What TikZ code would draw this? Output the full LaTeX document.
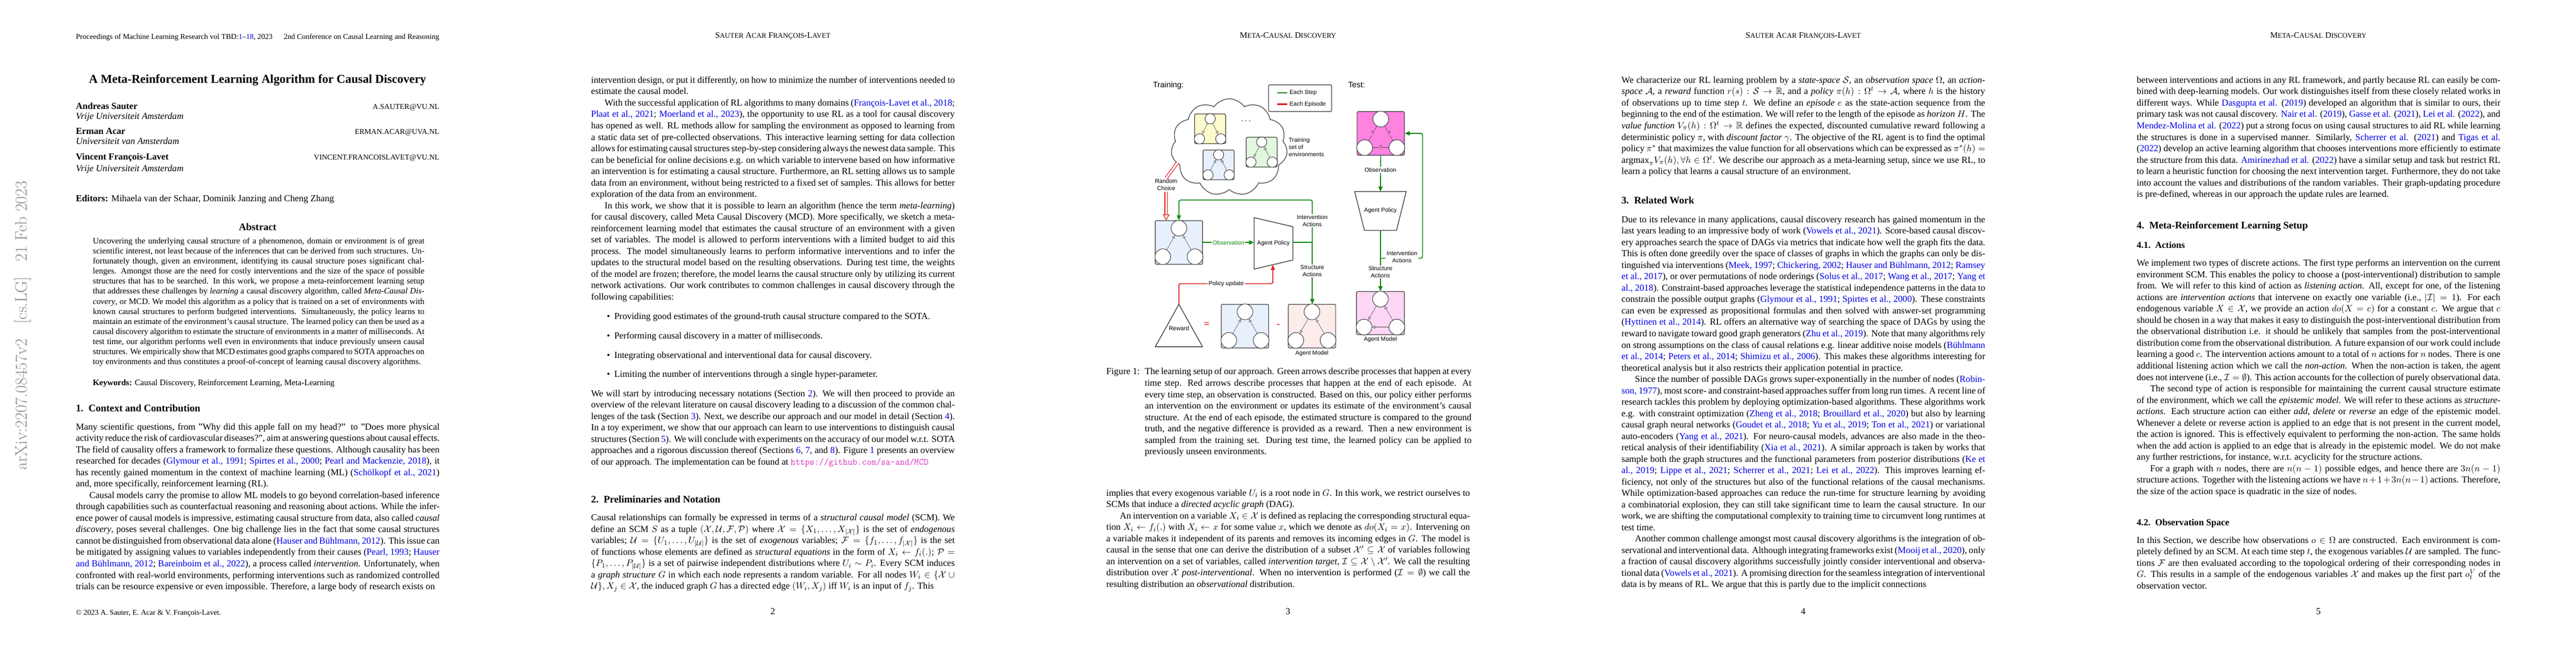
\documentclass[tikz,border=0pt]{standalone}
\usepackage{amsmath,amssymb}
\usepackage{fontspec}
\setmainfont{Liberation Serif}
\setsansfont{Liberation Sans}
\newfontfamily\lmfont{Latin Modern Roman}
\usetikzlibrary{arrows.meta, calc, positioning, shapes.symbols}

\definecolor{citeblue}{rgb}{0,0,0.9}
\definecolor{urlpink}{rgb}{0.85,0.2,0.75}
\definecolor{stepgreen}{RGB}{20,135,20}
\definecolor{epired}{RGB}{222,30,30}
\definecolor{envyellow}{RGB}{253,251,205}
\definecolor{envblue}{RGB}{232,240,254}
\definecolor{envgreen}{RGB}{226,246,224}
\definecolor{envrose}{RGB}{253,236,236}
\definecolor{envpink}{RGB}{252,214,244}
\definecolor{envmagenta}{RGB}{255,130,224}

\newcommand\ct[1]{\textcolor{citeblue}{#1}}
\newcommand\bodyfont{\fontsize{11}{13.6}\selectfont\parindent=16pt\parskip=0pt\relax}
\newcommand\fsc[2]{#1{\fontsize{8.5}{10}\selectfont#2}}
% environment box with three variables
\newcommand\envbox[7]{%
  \node[envrect, fill=#6, minimum width=#4in, minimum height=#5in] (#1) at (#2,#3) {};
  \node[varnode, minimum size=#7in] (#1-t) at ($(#1.north)+(0,{#7/2})$) {};
  \node[varnode, minimum size=#7in] (#1-l) at ($(#1.south west)+({#7/2},{-#7/2})$) {};
  \node[varnode, minimum size=#7in] (#1-r) at ($(#1.south east)+({-#7/2},{-#7/2})$) {};
}

\tikzset{
  body/.style={anchor=base west, inner sep=0pt, text width=6in, align=justify, font=\bodyfont},
  head/.style={anchor=base, inner sep=0pt, font=\fontsize{10}{12}\selectfont},
  sect/.style={anchor=base west, inner sep=0pt, font=\fontsize{12}{14}\selectfont\bfseries},
  subsect/.style={anchor=base west, inner sep=0pt, font=\fontsize{11}{13}\selectfont\bfseries},
  pagenum/.style={anchor=base, inner sep=0pt, font=\bodyfont},
  envrect/.style={draw=black!75, line width=0.8pt, rounded corners=1.5pt, inner sep=0pt},
  varnode/.style={circle, draw=black!80, fill=white, line width=0.6pt, inner sep=0pt},
  envarr/.style={-{Triangle[open,length=3.5pt,width=3.5pt]}, black!70, line width=0.4pt},
  stepline/.style={-{Triangle[length=6pt,width=5pt]}, stepgreen, line width=1.1pt},
  epiline/.style={-{Triangle[length=6pt,width=5pt]}, epired, line width=1.1pt},
  choiceline/.style={draw=epired, double=white, double distance=2.2pt, line width=0.8pt},
  lbl/.style={fill=white, inner sep=1pt, align=center, font=\sffamily\fontsize{7}{8.5}\selectfont},
  shapeline/.style={draw=black!75, line width=0.9pt, fill=white, line join=round},
}

\begin{document}
\begin{tikzpicture}[x=1in, y=-1in]
\useasboundingbox (0,0) rectangle (42.5,11);
\fill[white] (0,0) rectangle (42.5,11);

%% page 1
\begin{scope}
  \node[anchor=base west, inner sep=0pt, font=\fontsize{9}{11}\selectfont] (h1l) at (1.25,0.65)
    {Proceedings of Machine Learning Research vol TBD:\ct{1}–\ct{18}, 2023};
  \node[anchor=base east, inner sep=0pt, font=\fontsize{9}{11}\selectfont] (h1r) at (7.25,0.65)
    {2nd Conference on Causal Learning and Reasoning};
  \node[anchor=base, inner sep=0pt, font=\fontsize{14.4}{17}\selectfont\bfseries] (title) at (4.25,1.37)
    {A Meta-Reinforcement Learning Algorithm for Causal Discovery};
  \node[anchor=base west, inner sep=0pt, font=\bodyfont\bfseries] (au1) at (1.25,1.80) {Andreas Sauter};
  \node[anchor=base west, inner sep=0pt, font=\bodyfont\itshape] (af1) at (1.25,1.97) {Vrije Universiteit Amsterdam};
  \node[anchor=base east, inner sep=0pt, font=\fontsize{9}{11}\selectfont] (em1) at (7.25,1.80) {A.SAUTER@VU.NL};
  \node[anchor=base west, inner sep=0pt, font=\bodyfont\bfseries] (au2) at (1.25,2.21) {Erman Acar};
  \node[anchor=base west, inner sep=0pt, font=\bodyfont\itshape] (af2) at (1.25,2.38) {Universiteit van Amsterdam};
  \node[anchor=base east, inner sep=0pt, font=\fontsize{9}{11}\selectfont] (em2) at (7.25,2.21) {ERMAN.ACAR@UVA.NL};
  \node[anchor=base west, inner sep=0pt, font=\bodyfont\bfseries] (au3) at (1.25,2.64) {Vincent François-Lavet};
  \node[anchor=base west, inner sep=0pt, font=\bodyfont\itshape] (af3) at (1.25,2.83) {Vrije Universiteit Amsterdam};
  \node[anchor=base east, inner sep=0pt, font=\fontsize{9}{11}\selectfont] (em3) at (7.25,2.64) {VINCENT.FRANCOISLAVET@VU.NL};
  \node[anchor=base west, inner sep=0pt, font=\bodyfont] (editors) at (1.25,3.32)
    {\textbf{Editors:} Mihaela van der Schaar, Dominik Janzing and Cheng Zhang};
  \node[anchor=base, inner sep=0pt, font=\fontsize{12}{14}\selectfont\bfseries] (abshead) at (4.25,3.80) {Abstract};
  \node[body, text width=5.47in, font=\fontsize{10}{12}\selectfont] (abstract) at (1.53,4.02)
    {Uncovering the underlying causal structure of a phenomenon, domain or environment is of great scientific interest, not least because of the inferences that can be derived from such structures. Unfortunately though, given an environment, identifying its causal structure poses significant challenges. Amongst those are the need for costly interventions and the size of the space of possible structures that has to be searched. In this work, we propose a meta-reinforcement learning setup that addresses these challenges by \emph{learning} a causal discovery algorithm, called \emph{Meta-Causal Discovery}, or MCD. We model this algorithm as a policy that is trained on a set of environments with known causal structures to perform budgeted interventions. Simultaneously, the policy learns to maintain an estimate of the environment’s causal structure. The learned policy can then be used as a causal discovery algorithm to estimate the structure of environments in a matter of milliseconds. At test time, our algorithm performs well even in environments that induce previously unseen causal structures. We empirically show that MCD estimates good graphs compared to SOTA approaches on toy environments and thus constitutes a proof-of-concept of learning causal discovery algorithms.};
  \node[anchor=base west, inner sep=0pt, font=\fontsize{10}{12}\selectfont] (keywords) at (1.53,6.36)
    {\textbf{Keywords:} Causal Discovery, Reinforcement Learning, Meta-Learning};
  \node[sect] (sec1) at (1.25,6.79) {1.\hspace{0.5em}Context and Contribution};
  \node[body] (p1body) at (1.25,7.09)
    {\noindent Many scientific questions, from ”Why did this apple fall on my head?” to ”Does more physical activity reduce the risk of cardiovascular diseases?”, aim at answering questions about causal effects. The field of causality offers a framework to formalize these questions. Although causality has been researched for decades (\ct{Glymour et al., 1991}; \ct{Spirtes et al., 2000}; \ct{Pearl and Mackenzie, 2018}), it has recently gained momentum in the context of machine learning (ML) (\ct{Schölkopf et al., 2021}) and, more specifically, reinforcement learning (RL).\par
    Causal models carry the promise to allow ML models to go beyond correlation-based inference through capabilities such as counterfactual reasoning and reasoning about actions. While the inference power of causal models is impressive, estimating causal structure from data, also called \emph{causal discovery}, poses several challenges. One big challenge lies in the fact that some causal structures cannot be distinguished from observational data alone (\ct{Hauser and Bühlmann, 2012}). This issue can be mitigated by assigning values to variables independently from their causes (\ct{Pearl, 1993}; \ct{Hauser and Bühlmann, 2012}; \ct{Bareinboim et al., 2022}), a process called \emph{intervention}. Unfortunately, when confronted with real-world environments, performing interventions such as randomized controlled trials can be resource expensive or even impossible. Therefore, a large body of research exists on};
  \node[anchor=base west, inner sep=0pt, font=\fontsize{9}{11}\selectfont] (foot1) at (1.25,10.15)
    {© 2023 A. Sauter, E. Acar \& V. François-Lavet.};
  \node[rotate=90, inner sep=0pt, text=black!45, font=\lmfont\fontsize{20}{20}\selectfont] (arxiv) at (0.38,5.37)
    {arXiv:2207.08457v2\hspace{0.6em} [cs.LG]\hspace{0.6em} 21 Feb 2023};
\end{scope}

%% page 2
\begin{scope}[shift={(8.5,0)}]
  \node[head] (h2) at (4.25,0.63) {\fsc{S}{AUTER} \fsc{A}{CAR} \fsc{F}{RANÇOIS}-\fsc{L}{AVET}};
  \node[body] (p2a) at (1.25,1.37)
    {\noindent intervention design, or put it differently, on how to minimize the number of interventions needed to estimate the causal model.\par
    With the successful application of RL algorithms to many domains (\ct{François-Lavet et al., 2018}; \ct{Plaat et al., 2021}; \ct{Moerland et al., 2023}), the opportunity to use RL as a tool for causal discovery has opened as well. RL methods allow for sampling the environment as opposed to learning from a static data set of pre-collected observations. This interactive learning setting for data collection allows for estimating causal structures step-by-step considering always the newest data sample. This can be beneficial for online decisions e.g. on which variable to intervene based on how informative an intervention is for estimating a causal structure. Furthermore, an RL setting allows us to sample data from an environment, without being restricted to a fixed set of samples. This allows for better exploration of the data from an environment.\par
    In this work, we show that it is possible to learn an algorithm (hence the term \emph{meta-learning}) for causal discovery, called Meta Causal Discovery (MCD). More specifically, we sketch a meta-reinforcement learning model that estimates the causal structure of an environment with a given set of variables. The model is allowed to perform interventions with a limited budget to aid this process. The model simultaneously learns to perform informative interventions and to infer the updates to the structural model based on the resulting observations. During test time, the weights of the model are frozen; therefore, the model learns the causal structure only by utilizing its current network activations. Our work contributes to common challenges in causal discovery through the following capabilities:};
  \foreach \txt [count=\i] in {Providing good estimates of the ground-truth causal structure compared to the SOTA.,
      Performing causal discovery in a matter of milliseconds.,
      Integrating observational and interventional data for causal discovery.,
      Limiting the number of interventions through a single hyper-parameter.}
    \node[anchor=base west, inner sep=0pt, font=\bodyfont] (bullet\i) at (1.51,{5.27+(\i-1)*0.318}) {•\hspace{0.45em}\txt};
  \node[body] (p2b) at (1.25,6.54)
    {We will start by introducing necessary notations (Section \ct{2}). We will then proceed to provide an overview of the relevant literature on causal discovery leading to a discussion of the common challenges of the task (Section \ct{3}). Next, we describe our approach and our model in detail (Section \ct{4}). In a toy experiment, we show that our approach can learn to use interventions to distinguish causal structures (Section \ct{5}). We will conclude with experiments on the accuracy of our model w.r.t. SOTA approaches and a rigorous discussion thereof (Sections \ct{6}, \ct{7}, and \ct{8}). Figure \ct{1} presents an overview of our approach. The implementation can be found at \textcolor{urlpink}{\texttt{https://github.com/\allowbreak sa-and/MCD}}};
  \node[sect] (sec2) at (1.25,8.29) {2.\hspace{0.5em}Preliminaries and Notation};
  \node[body] (p2c) at (1.25,8.59)
    {\noindent Causal relationships can formally be expressed in terms of a \emph{structural causal model} (SCM). We define an SCM $S$ as a tuple $(\mathcal{X},\mathcal{U},\mathcal{F},\mathcal{P})$ where $\mathcal{X}=\{X_1,\dots,X_{|\mathcal{X}|}\}$ is the set of \emph{endogenous} variables; $\mathcal{U}=\{U_1,\dots,U_{|\mathcal{U}|}\}$ is the set of \emph{exogenous} variables; $\mathcal{F}=\{f_1,\dots,f_{|\mathcal{X}|}\}$ is the set of functions whose elements are defined as \emph{structural equations} in the form of $X_i\leftarrow f_i(.)$; $\mathcal{P}=\{P_1,\dots,P_{|\mathcal{U}|}\}$ is a set of pairwise independent distributions where $U_i\sim P_i$. Every SCM induces a \emph{graph structure} $G$ in which each node represents a random variable. For all nodes $W_i\in\{\mathcal{X}\cup\mathcal{U}\}, X_j\in\mathcal{X}$, the induced graph $G$ has a directed edge $(W_i,X_j)$ iff $W_i$ is an input of $f_j$. This};
  \node[pagenum] (pn2) at (4.25,10.14) {2};
\end{scope}

%% page 3
\begin{scope}[shift={(17,0)}]
  \node[head] (h3) at (4.25,0.63) {\fsc{M}{ETA}-\fsc{C}{AUSAL} \fsc{D}{ISCOVERY}};
  \begin{scope}[font=\sffamily\fontsize{7}{8.5}\selectfont]
    \node[anchor=base west, inner sep=0pt, font=\sffamily\fontsize{9.5}{11}\selectfont] (trainlbl) at (2.02,1.44) {Training:};
    \node[anchor=base west, inner sep=0pt, font=\sffamily\fontsize{9.5}{11}\selectfont] (testlbl) at (5.24,1.44) {Test:};
    % legend
    \node[draw=black!75, line width=0.8pt, rounded corners=1.5pt, minimum width=1.04in, minimum height=0.44in] (legend) at (4.45,1.62) {};
    \coordinate (lg-s1) at (4.07,1.53); \coordinate (lg-s2) at (4.24,1.53);
    \coordinate (lg-e1) at (4.07,1.72); \coordinate (lg-e2) at (4.24,1.72);
    \draw[stepgreen, line width=1.6pt] (lg-s1) -- (lg-s2);
    \draw[epired, line width=1.6pt] (lg-e1) -- (lg-e2);
    \node[anchor=west, inner sep=1pt] (lg-step) at (4.26,1.53) {Each Step};
    \node[anchor=west, inner sep=1pt] (lg-epi) at (4.26,1.72) {Each Episode};
    % training pool
    \node[cloud, draw=black!75, fill=white, line width=0.8pt, cloud puffs=11, cloud puff arc=110, minimum width=1.92in, minimum height=1.6in] (pool) at (3.28,2.43) {};
    \envbox{envy}{2.965}{2.125}{0.51}{0.49}{envyellow}{0.17}
    \envbox{envs}{3.105}{2.72}{0.51}{0.49}{envblue}{0.17}
    \envbox{envg}{3.815}{2.51}{0.51}{0.49}{envgreen}{0.17}
    \draw[envarr] (envy-t) -- (envy-l); \draw[envarr] (envy-t) -- (envy-r);
    \draw[envarr] (envs-l) -- (envs-t); \draw[envarr] (envs-r) -- (envs-t);
    \draw[envarr] (envg-t) -- (envg-l); \draw[envarr] (envg-r) -- (envg-t);
    \node (dots) at (3.57,2.0) {\fontsize{10}{10}\selectfont$\cdots$};
    \node[anchor=west, align=left, inner sep=0pt] (poollbl) at (4.26,2.43) {Training\\set of\\environments};
    % training loop
    \envbox{envb}{2.45}{4.00}{0.78}{0.72}{envblue}{0.26}
    \draw[envarr] (envb-l) -- (envb-t); \draw[envarr] (envb-r) -- (envb-t);
    \coordinate (tp1) at (3.69,3.59); \coordinate (tp2) at (4.33,3.74);
    \coordinate (tp3) at (4.33,4.29); \coordinate (tp4) at (3.69,4.44);
    \draw[shapeline] (tp1) -- (tp2) -- (tp3) -- (tp4) -- cycle;
    \node (trainpol) at (4.01,4.01) {Agent Policy};
    \coordinate (tp-in) at (3.69,4.00); \coordinate (tp-out) at (4.33,4.00);
    \coordinate (tp-bot) at (4.00,4.37); \coordinate (junc) at (4.65,4.00);
    \envbox{envr}{3.54}{5.38}{0.78}{0.72}{envblue}{0.26}
    \draw[envarr] (envr-l) -- (envr-t); \draw[envarr] (envr-r) -- (envr-t);
    \envbox{agm}{4.645}{5.38}{0.78}{0.72}{envrose}{0.26}
    \draw[envarr] (agm-t) -- (agm-l); \draw[envarr] (agm-r) -- (agm-t);
    \coordinate (rw1) at (2.45,5.02); \coordinate (rw2) at (2.84,5.72); \coordinate (rw3) at (2.06,5.72);
    \draw[shapeline] (rw1) -- (rw2) -- (rw3) -- cycle;
    \node (reward) at (2.45,5.42) {Reward};
    \node[text=epired, font=\bfseries\fontsize{12}{12}\selectfont] (eqsign) at (2.91,5.36) {=};
    \node[text=epired, font=\bfseries\fontsize{12}{12}\selectfont] (minsign) at (4.09,5.37) {-};
    \node (agmlbl) at (4.645,5.83) {Agent Model};
    \draw[stepline] (envb.east) -- node[lbl] {Observation} (tp-in);
    \draw[stepgreen, line width=1.1pt] (tp-out) -- (junc);
    \draw[stepline, rounded corners=2pt] (junc) -- (4.65,3.30) -| (envb.north);
    \draw[stepline] (junc) -- (junc |- agm.north);
    \node[lbl] (ialbl) at (4.65,3.64) {Intervention\\Actions};
    \node[lbl] (salbl) at (4.65,4.47) {Structure\\Actions};
    \draw[epiline, rounded corners=2pt] (rw1) -- (2.45,4.68) -| (tp-bot);
    \node[lbl] (pulbl) at (3.23,4.68) {Policy update};
    \coordinate (rc-a) at (2.43,2.68);
    \node[lbl] (randlbl) at (2.24,3.05) {Random\\Choice};
    \draw[choiceline] (rc-a) -- (randlbl.north);
    \draw[choiceline, -{Triangle[open,length=7pt,width=8pt]}] (randlbl.south) -- (randlbl |- envb.north);
    % test
    \envbox{tst}{5.78}{2.20}{0.78}{0.72}{envmagenta}{0.26}
    \draw[black!75, line width=0.4pt] (tst-t) -- node[fill=envmagenta, inner sep=0.5pt] {?} (tst-l);
    \draw[black!75, line width=0.4pt] (tst-t) -- node[fill=envmagenta, inner sep=0.5pt] {?} (tst-r);
    \draw[black!75, line width=0.4pt] (tst-l) -- node[fill=envmagenta, inner sep=0.5pt] {?} (tst-r);
    \coordinate (tt1) at (5.35,3.16); \coordinate (tt2) at (6.20,3.16);
    \coordinate (tt3) at (6.04,3.80); \coordinate (tt4) at (5.51,3.80);
    \draw[shapeline] (tt1) -- (tt2) -- (tt3) -- (tt4) -- cycle;
    \node (testpol) at (5.775,3.47) {Agent Policy};
    \coordinate (tt-top) at (5.775,3.16); \coordinate (tt-bot) at (5.775,3.80);
    \coordinate (tbr) at (5.775,4.26);
    \envbox{tpm}{5.775}{5.165}{0.79}{0.71}{envpink}{0.26}
    \draw[envarr] (tpm-t) -- (tpm-l); \draw[envarr] (tpm-r) -- (tpm-t); \draw[envarr] (tpm-r) -- (tpm-l);
    \draw[stepline] (tst.south) -- (tt-top);
    \draw[stepline] (tt-bot) -- (tpm.north);
    \draw[stepline, rounded corners=2pt] (tbr) -- (6.47,4.26) |- (tst.east);
    \node[lbl] (tobslbl) at (5.775,2.80) {Observation};
    \node[lbl] (tsalbl) at (5.775,4.49) {Structure\\Actions};
    \node[lbl] (tialbl) at (6.13,4.24) {Intervention\\Actions};
    \node (tagmlbl) at (5.775,5.60) {Agent Model};
  \end{scope}
  \node[anchor=base west, inner sep=0pt, font=\bodyfont] (figtag) at (1.25,6.18) {Figure 1:};
  \node[body, text width=5.39in] (caption) at (1.885,6.18)
    {The learning setup of our approach. Green arrows describe processes that happen at every time step. Red arrows describe processes that happen at the end of each episode. At every time step, an observation is constructed. Based on this, our policy either performs an intervention on the environment or updates its estimate of the environment’s causal structure. At the end of each episode, the estimated structure is compared to the ground truth, and the negative difference is provided as a reward. Then a new environment is sampled from the training set. During test time, the learned policy can be applied to previously unseen environments.};
  \node[body] (p3a) at (1.25,8.18)
    {\noindent implies that every exogenous variable $U_i$ is a root node in $G$. In this work, we restrict ourselves to SCMs that induce a \emph{directed acyclic graph} (DAG).\par
    An intervention on a variable $X_i\in\mathcal{X}$ is defined as replacing the corresponding structural equation $X_i\leftarrow f_i(.)$ with $X_i\leftarrow x$ for some value $x$, which we denote as $do(X_i=x)$. Intervening on a variable makes it independent of its parents and removes its incoming edges in $G$. The model is causal in the sense that one can derive the distribution of a subset $\mathcal{X}'\subseteq\mathcal{X}$ of variables following an intervention on a set of variables, called \emph{intervention target}, $\mathcal{I}\subseteq\mathcal{X}\setminus\mathcal{X}'$. We call the resulting distribution over $\mathcal{X}$ \emph{post-interventional}. When no intervention is performed ($\mathcal{I}=\emptyset$) we call the resulting distribution an \emph{observational} distribution.};
  \node[pagenum] (pn3) at (4.25,10.14) {3};
\end{scope}

%% page 4
\begin{scope}[shift={(25.5,0)}]
  \node[head] (h4) at (4.25,0.63) {\fsc{S}{AUTER} \fsc{A}{CAR} \fsc{F}{RANÇOIS}-\fsc{L}{AVET}};
  \node[body] (p4a) at (1.25,1.37)
    {We characterize our RL learning problem by a \emph{state-space} $\mathcal{S}$, an \emph{observation space} $\Omega$, an \emph{action-space} $\mathcal{A}$, a \emph{reward} function $r(s):\mathcal{S}\rightarrow\mathbb{R}$, and a \emph{policy} $\pi(h):\Omega^t\rightarrow\mathcal{A}$, where $h$ is the history of observations up to time step $t$. We define an \emph{episode} $e$ as the state-action sequence from the beginning to the end of the estimation. We will refer to the length of the episode as \emph{horizon} $H$. The \emph{value function} $V_\pi(h):\Omega^t\rightarrow\mathbb{R}$ defines the expected, discounted cumulative reward following a deterministic policy $\pi$, with \emph{discount factor} $\gamma$. The objective of the RL agent is to find the optimal policy $\pi^*$ that maximizes the value function for all observations which can be expressed as $\pi^*(h)=\mathrm{argmax}_\pi V_\pi(h), \forall h\in\Omega^t$. We describe our approach as a meta-learning setup, since we use RL, to learn a policy that learns a causal structure of an environment.};
  \node[sect] (sec3) at (1.25,3.36) {3.\hspace{0.5em}Related Work};
  \node[body] (p4b) at (1.25,3.67)
    {\noindent Due to its relevance in many applications, causal discovery research has gained momentum in the last years leading to an impressive body of work (\ct{Vowels et al., 2021}). Score-based causal discovery approaches search the space of DAGs via metrics that indicate how well the graph fits the data. This is often done greedily over the space of classes of graphs in which the graphs can only be distinguished via interventions (\ct{Meek, 1997}; \ct{Chickering, 2002}; \ct{Hauser and Bühlmann, 2012}; \ct{Ramsey et al., 2017}), or over permutations of node orderings (\ct{Solus et al., 2017}; \ct{Wang et al., 2017}; \ct{Yang et al., 2018}). Constraint-based approaches leverage the statistical independence patterns in the data to constrain the possible output graphs (\ct{Glymour et al., 1991}; \ct{Spirtes et al., 2000}). These constraints can even be expressed as propositional formulas and then solved with answer-set programming (\ct{Hyttinen et al., 2014}). RL offers an alternative way of searching the space of DAGs by using the reward to navigate toward good graph generators (\ct{Zhu et al., 2019}). Note that many algorithms rely on strong assumptions on the class of causal relations e.g. linear additive noise models (\ct{Bühlmann et al., 2014}; \ct{Peters et al., 2014}; \ct{Shimizu et al., 2006}). This makes these algorithms interesting for theoretical analysis but it also restricts their application potential in practice.\par
    Since the number of possible DAGs grows super-exponentially in the number of nodes (\ct{Robinson, 1977}), most score- and constraint-based approaches suffer from long run times. A recent line of research tackles this problem by deploying optimization-based algorithms. These algorithms work e.g. with constraint optimization (\ct{Zheng et al., 2018}; \ct{Brouillard et al., 2020}) but also by learning causal graph neural networks (\ct{Goudet et al., 2018}; \ct{Yu et al., 2019}; \ct{Ton et al., 2021}) or variational auto-encoders (\ct{Yang et al., 2021}). For neuro-causal models, advances are also made in the theoretical analysis of their identifiability (\ct{Xia et al., 2021}). A similar approach is taken by works that sample both the graph structures and the functional parameters from posterior distributions (\ct{Ke et al., 2019}; \ct{Lippe et al., 2021}; \ct{Scherrer et al., 2021}; \ct{Lei et al., 2022}). This improves learning efficiency, not only of the structures but also of the functional relations of the causal mechanisms. While optimization-based approaches can reduce the run-time for structure learning by avoiding a combinatorial explosion, they can still take significant time to learn the causal structure. In our work, we are shifting the computational complexity to training time to circumvent long runtimes at test time.\par
    Another common challenge amongst most causal discovery algorithms is the integration of observational and interventional data. Although integrating frameworks exist (\ct{Mooij et al., 2020}), only a fraction of causal discovery algorithms successfully jointly consider interventional and observational data (\ct{Vowels et al., 2021}). A promising direction for the seamless integration of interventional data is by means of RL. We argue that this is partly due to the implicit connections};
  \node[pagenum] (pn4) at (4.25,10.14) {4};
\end{scope}

%% page 5
\begin{scope}[shift={(34,0)}]
  \node[head] (h5) at (4.25,0.63) {\fsc{M}{ETA}-\fsc{C}{AUSAL} \fsc{D}{ISCOVERY}};
  \node[body] (p5a) at (1.25,1.37)
    {\noindent between interventions and actions in any RL framework, and partly because RL can easily be combined with deep-learning models. Our work distinguishes itself from these closely related works in different ways. While \ct{Dasgupta et al.} (\ct{2019}) developed an algorithm that is similar to ours, their primary task was not causal discovery. \ct{Nair et al.} (\ct{2019}), \ct{Gasse et al.} (\ct{2021}), \ct{Lei et al.} (\ct{2022}), and \ct{Mendez-Molina et al.} (\ct{2022}) put a strong focus on using causal structures to aid RL while learning the structures is done in a supervised manner. Similarly, \ct{Scherrer et al.} (\ct{2021}) and \ct{Tigas et al.} (\ct{2022}) develop an active learning algorithm that chooses interventions more efficiently to estimate the structure from this data. \ct{Amirinezhad et al.} (\ct{2022}) have a similar setup and task but restrict RL to learn a heuristic function for choosing the next intervention target. Furthermore, they do not take into account the values and distributions of the random variables. Their graph-updating procedure is pre-defined, whereas in our approach the update rules are learned.};
  \node[sect] (sec4) at (1.25,3.77) {4.\hspace{0.5em}Meta-Reinforcement Learning Setup};
  \node[subsect] (sec41) at (1.25,4.09) {4.1.\hspace{0.5em}Actions};
  \node[body] (p5b) at (1.25,4.39)
    {\noindent We implement two types of discrete actions. The first type performs an intervention on the current environment SCM. This enables the policy to choose a (post-interventional) distribution to sample from. We will refer to this kind of action as \emph{listening action}. All, except for one, of the listening actions are \emph{intervention actions} that intervene on exactly one variable (i.e., $|\mathcal{I}|=1$). For each endogenous variable $X\in\mathcal{X}$, we provide an action $do(X=c)$ for a constant $c$. We argue that $c$ should be chosen in a way that makes it easy to distinguish the post-interventional distribution from the observational distribution i.e. it should be unlikely that samples from the post-interventional distribution come from the observational distribution. A future expansion of our work could include learning a good $c$. The intervention actions amount to a total of $n$ actions for $n$ nodes. There is one additional listening action which we call the \emph{non-action}. When the non-action is taken, the agent does not intervene (i.e., $\mathcal{I}=\emptyset$). This action accounts for the collection of purely observational data.\par
    The second type of action is responsible for maintaining the current causal structure estimate of the environment, which we call the \emph{epistemic model}. We will refer to these actions as \emph{structure-actions}. Each structure action can either \emph{add}, \emph{delete} or \emph{reverse} an edge of the epistemic model. Whenever a delete or reverse action is applied to an edge that is not present in the current model, the action is ignored. This is effectively equivalent to performing the non-action. The same holds when the add action is applied to an edge that is already in the epistemic model. We do not make any further restrictions, for instance, w.r.t. acyclicity for the structure actions.\par
    For a graph with $n$ nodes, there are $n(n-1)$ possible edges, and hence there are $3n(n-1)$ structure actions. Together with the listening actions we have $n+1+3n(n-1)$ actions. Therefore, the size of the action space is quadratic in the size of nodes.};
  \node[subsect] (sec42) at (1.25,8.67) {4.2.\hspace{0.5em}Observation Space};
  \node[body] (p5c) at (1.25,8.96)
    {\noindent In this Section, we describe how observations $o\in\Omega$ are constructed. Each environment is completely defined by an SCM. At each time step $t$, the exogenous variables $\mathcal{U}$ are sampled. The functions $\mathcal{F}$ are then evaluated according to the topological ordering of their corresponding nodes in $G$. This results in a sample of the endogenous variables $\mathcal{X}$ and makes up the first part $o_t^V$ of the observation vector.};
  \node[pagenum] (pn5) at (4.25,10.14) {5};
\end{scope}
\end{tikzpicture}
\end{document}
